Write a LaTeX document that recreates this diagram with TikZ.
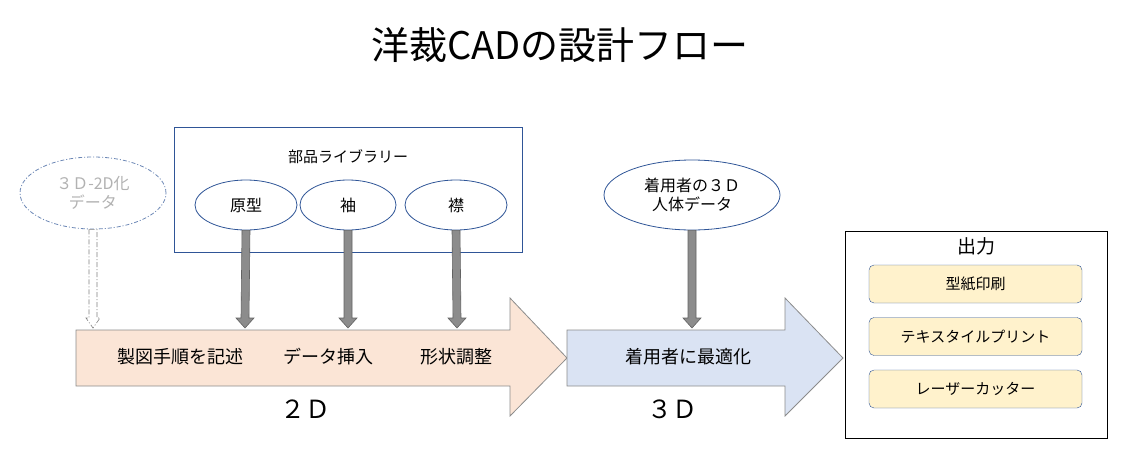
\documentclass[tikz,border=0pt]{standalone}
\usepackage{fontspec}
\setmainfont{Noto Sans CJK JP}
\usetikzlibrary{shapes.geometric,calc}
\definecolor{peach}{HTML}{FBE5D6}
\definecolor{lblue}{HTML}{DAE3F3}
\definecolor{lyel}{HTML}{FFF2CC}
\definecolor{dblue}{HTML}{2F5597}
\definecolor{agray}{HTML}{8C8C8C}
\begin{document}
\begin{tikzpicture}[x=1pt,y=-1pt,
  ell/.style={ellipse,draw=dblue,line width=0.8pt,fill=white,inner sep=0pt,font=\fontsize{16}{19}\selectfont,align=center},
  obox/.style={draw=dblue,rounded corners=5pt,fill=lyel,minimum width=213pt,minimum height=38pt,font=\fontsize{15}{18}\selectfont},
  lbl/.style={font=\fontsize{18}{21}\selectfont},
  shaft/.style={draw=agray!70!black,fill=agray,line width=0.6pt},
  big/.style={draw=agray,line width=0.8pt}]
\useasboundingbox (0,0) rectangle (1136,464);
\node (title) at (560,45) {\fontsize{38}{44}\selectfont 洋裁CADの設計フロー};
% big arrows
\draw[big,fill=peach] (76,330) -- (510,330) -- (510,298) -- (567,358) -- (510,416) -- (510,386) -- (76,386) -- cycle;
\draw[big,fill=lblue] (567,330) -- (785,330) -- (785,298) -- (843,358) -- (785,416) -- (785,386) -- (567,386) -- cycle;
\coordinate (t1) at (245,328); \coordinate (t2) at (348,328); \coordinate (t3) at (457,328);
\coordinate (t4) at (692,328); \coordinate (t0) at (93,328);
\node[lbl] (a) at (180,357) {製図手順を記述};
\node[lbl] (b) at (328,357) {データ挿入};
\node[lbl] (c) at (456,357) {形状調整};
\node[lbl] (d) at (688,357) {着用者に最適化};
\node (e) at (305,409) {\fontsize{25}{29}\selectfont ２Ｄ};
\node (f) at (672,409) {\fontsize{25}{29}\selectfont ３Ｄ};
% library
\draw[dblue,line width=0.8pt] (174,127) rectangle (522,252);
\node[font=\fontsize{15}{18}\selectfont] (lib) at (348,157) {部品ライブラリー};
\node[ell,minimum width=102pt,minimum height=50pt] (g1) at (246,205) {原型};
\node[ell,minimum width=96pt,minimum height=50pt] (g2) at (348,205) {袖};
\node[ell,minimum width=102pt,minimum height=50pt] (g3) at (456,205) {襟};
\node[ell,minimum width=176pt,minimum height=70pt] (w) at (692,195) {着用者の３Ｄ\\人体データ};
\node[ell,draw=dblue!70,dash pattern=on 4pt off 2pt on 1pt off 2pt,text=gray!60,minimum width=146pt,minimum height=72pt] (x) at (93,193) {３Ｄ-2D化\\データ};
% shafts
\foreach \s/\t in {g1/t1,g2/t2,g3/t3,w/t4}{
  \path (\s.south) coordinate (s0) (\t) coordinate (e0);
  \draw[shaft] ($(s0)+(-4,0)$) -- ($(e0)+(-4,-10)$) -- ($(e0)+(-9,-10)$) -- (e0) -- ($(e0)+(9,-10)$) -- ($(e0)+(4,-10)$) -- ($(s0)+(4,0)$) -- cycle;
}
\path (x.south) coordinate (s0) (t0) coordinate (e0);
\draw[gray,dash pattern=on 5pt off 2pt on 1pt off 2pt,fill=white,line width=0.6pt] ($(s0)+(-4,0)$) -- ($(e0)+(-4,-10)$) -- ($(e0)+(-7,-10)$) -- (e0) -- ($(e0)+(7,-10)$) -- ($(e0)+(4,-10)$) -- ($(s0)+(4,0)$) -- cycle;
% output
\draw[black,line width=0.8pt] (845,231) rectangle (1107,438);
\node[font=\fontsize{19}{22}\selectfont] (out) at (976,246) {出力};
\node[obox] (o1) at (975.5,284) {型紙印刷};
\node[obox] (o2) at (975.5,336.5) {テキスタイルプリント};
\node[obox] (o3) at (975.5,389) {レーザーカッター};
\end{tikzpicture}
\end{document}
